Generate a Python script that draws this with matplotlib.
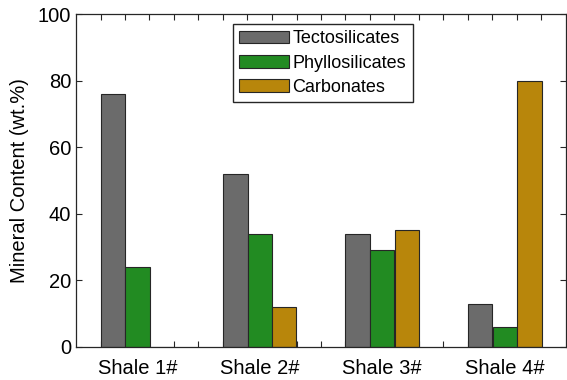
import matplotlib
matplotlib.use('Agg')
import matplotlib.pyplot as plt
import numpy as np

shales = ['Shale 1#', 'Shale 2#', 'Shale 3#', 'Shale 4#']
tecto = [76, 52, 34, 13]
phyllo = [24, 34, 29, 6]
carb = [0, 12, 35, 80]
names = ['Tectosilicates', 'Phyllosilicates', 'Carbonates']
colors = ['#6b6b6b', '#228b22', '#b8860b']

plt.rcParams['font.family'] = ['Liberation Sans', 'DejaVu Sans']

fig = plt.figure(figsize=(5.67, 3.8), dpi=100)
ax = fig.add_axes([76/567, 1-347/380, 490/567, 333/380])

x = np.arange(1, len(shales)+1)
w = 0.2
for i, (vals, nm) in enumerate(zip([tecto, phyllo, carb], names)):
    ax.bar(x + (i-1)*w, vals, w, color=colors[i], edgecolor='#262626',
           linewidth=0.8, label=nm, zorder=2)

ax.set_axisbelow(True)
ax.set_xlim(0.5, 4.5)
ax.set_ylim(0, 100)
ax.set_yticks([0, 20, 40, 60, 80, 100])
ax.set_xticks(x)
ax.set_xticklabels(shales)
ax.set_xticks(np.arange(0.7, 4.31, 0.2), minor=True)
ax.tick_params(axis='x', which='major', length=0, labelsize=14.5, pad=9)
ax.tick_params(axis='x', which='minor', direction='in', length=4,
               top=True, bottom=True, width=0.8, color='#262626')
ax.tick_params(axis='y', direction='in', length=4, right=True,
               labelsize=14.5, width=0.8, color='#262626')
ax.set_ylabel('Mineral Content (wt.%)', fontsize=14.5, labelpad=6)
for s in ax.spines.values():
    s.set_color('#262626')
    s.set_linewidth(0.9)

leg = ax.legend(loc='upper left', bbox_to_anchor=(233/567, 1-24/380),
                bbox_transform=fig.transFigure, fontsize=13, frameon=True,
                fancybox=False, edgecolor='#262626', framealpha=1,
                handlelength=2.75, handleheight=0.7, handletextpad=0.2,
                labelspacing=0.4, borderpad=0.35, borderaxespad=0)
leg.get_frame().set_linewidth(1.0)

plt.savefig('out.png', dpi=100)
